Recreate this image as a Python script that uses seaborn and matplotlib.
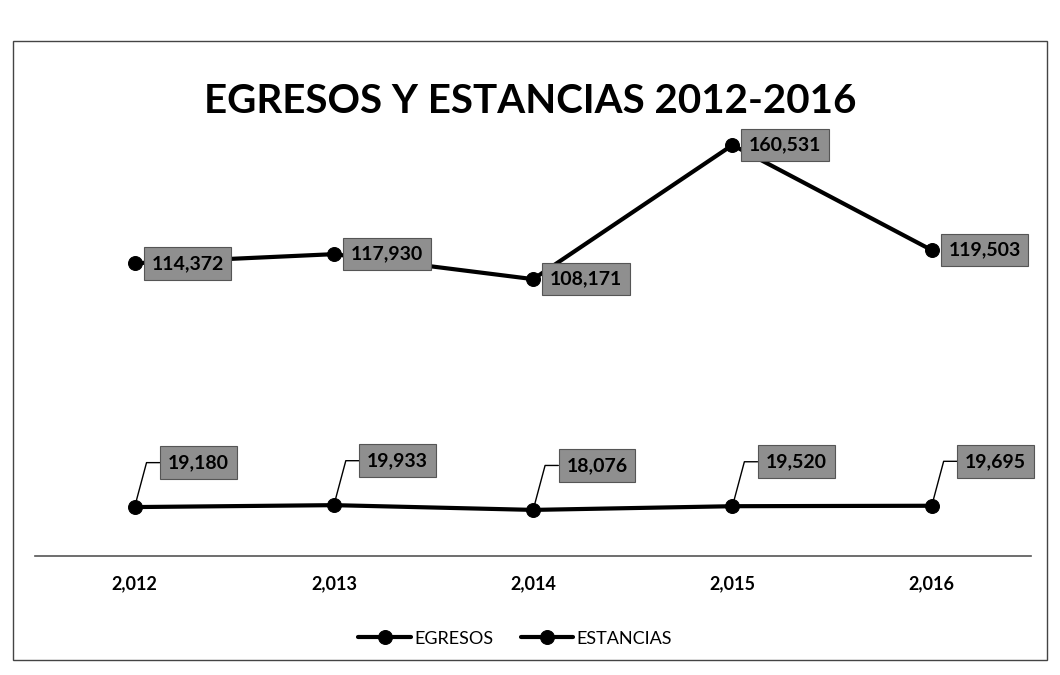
import matplotlib
matplotlib.use("Agg")
import matplotlib.pyplot as plt
import seaborn as sns
import pandas as pd
from matplotlib.patches import Rectangle

years = [2012, 2013, 2014, 2015, 2016]
egresos = [19180, 19933, 18076, 19520, 19695]
estancias = [114372, 117930, 108171, 160531, 119503]

sns.set_theme(style="white")
plt.rcParams['font.family'] = ['Lato', 'DejaVu Sans']

df = pd.DataFrame({
    'year': years * 2,
    'value': egresos + estancias,
    'serie': ['EGRESOS'] * len(years) + ['ESTANCIAS'] * len(years),
})

fig = plt.figure(figsize=(10.6, 6.75), dpi=100)
ax = fig.add_axes([0.033, 0.176, 0.94, 0.683])

# thin frame round the chart area, as in the scanned original
fig.patches.append(Rectangle((0.012, 0.022), 0.976, 0.918, transform=fig.transFigure,
                             fill=False, edgecolor='#444444', linewidth=1))

sns.lineplot(data=df, x='year', y='value', hue='serie', palette=['black', 'black'],
             marker='o', markersize=10, linewidth=3, dashes=False, ax=ax,
             markeredgecolor='black')

ax.set_xlim(2011.5, 2016.5)
ax.set_ylim(0, 180000)
ax.set_xticks(years)
ax.set_xticklabels([f"{y:,}" for y in years], fontsize=13, fontweight='bold', color='black')
ax.set_yticks([])
ax.set_xlabel('')
ax.set_ylabel('')
ax.tick_params(axis='x', length=0, pad=14)
for s in ['top', 'right', 'left']:
    ax.spines[s].set_visible(False)
ax.spines['bottom'].set_color('#555555')
ax.spines['bottom'].set_linewidth(1.2)

box = dict(boxstyle='square,pad=0.4', facecolor='#8f8f8f', edgecolor='#555555', linewidth=0.8)

# egresos labels: above right with leader line
for x, v in zip(years, egresos):
    ax.annotate(f"{v:,}", xy=(x, v), xytext=(24, 32), textcoords='offset points',
                fontsize=14, fontweight='bold', color='black', ha='left', va='center',
                bbox=box, arrowprops=dict(arrowstyle='-', color='black', lw=1,
                                          shrinkA=0, shrinkB=3, relpos=(0, 0.5),
                                          connectionstyle='angle,angleA=0,angleB=75,rad=0'))

# estancias labels: right of the point
for x, v in zip(years, estancias):
    ax.annotate(f"{v:,}", xy=(x, v), xytext=(12, 0), textcoords='offset points',
                fontsize=14, fontweight='bold', color='black', ha='left', va='center',
                bbox=box)

leg = ax.legend(loc='center', bbox_to_anchor=(0.482, -0.179), ncol=2, frameon=False,
                fontsize=13, handlelength=2.9, columnspacing=1.5, handletextpad=0.2)
for t in leg.get_texts():
    t.set_color('black')

fig.text(0.5, 0.85, 'EGRESOS Y ESTANCIAS 2012-2016', ha='center', va='center',
         fontsize=29, fontweight='bold', color='black')

fig.savefig('out.png', dpi=100)
